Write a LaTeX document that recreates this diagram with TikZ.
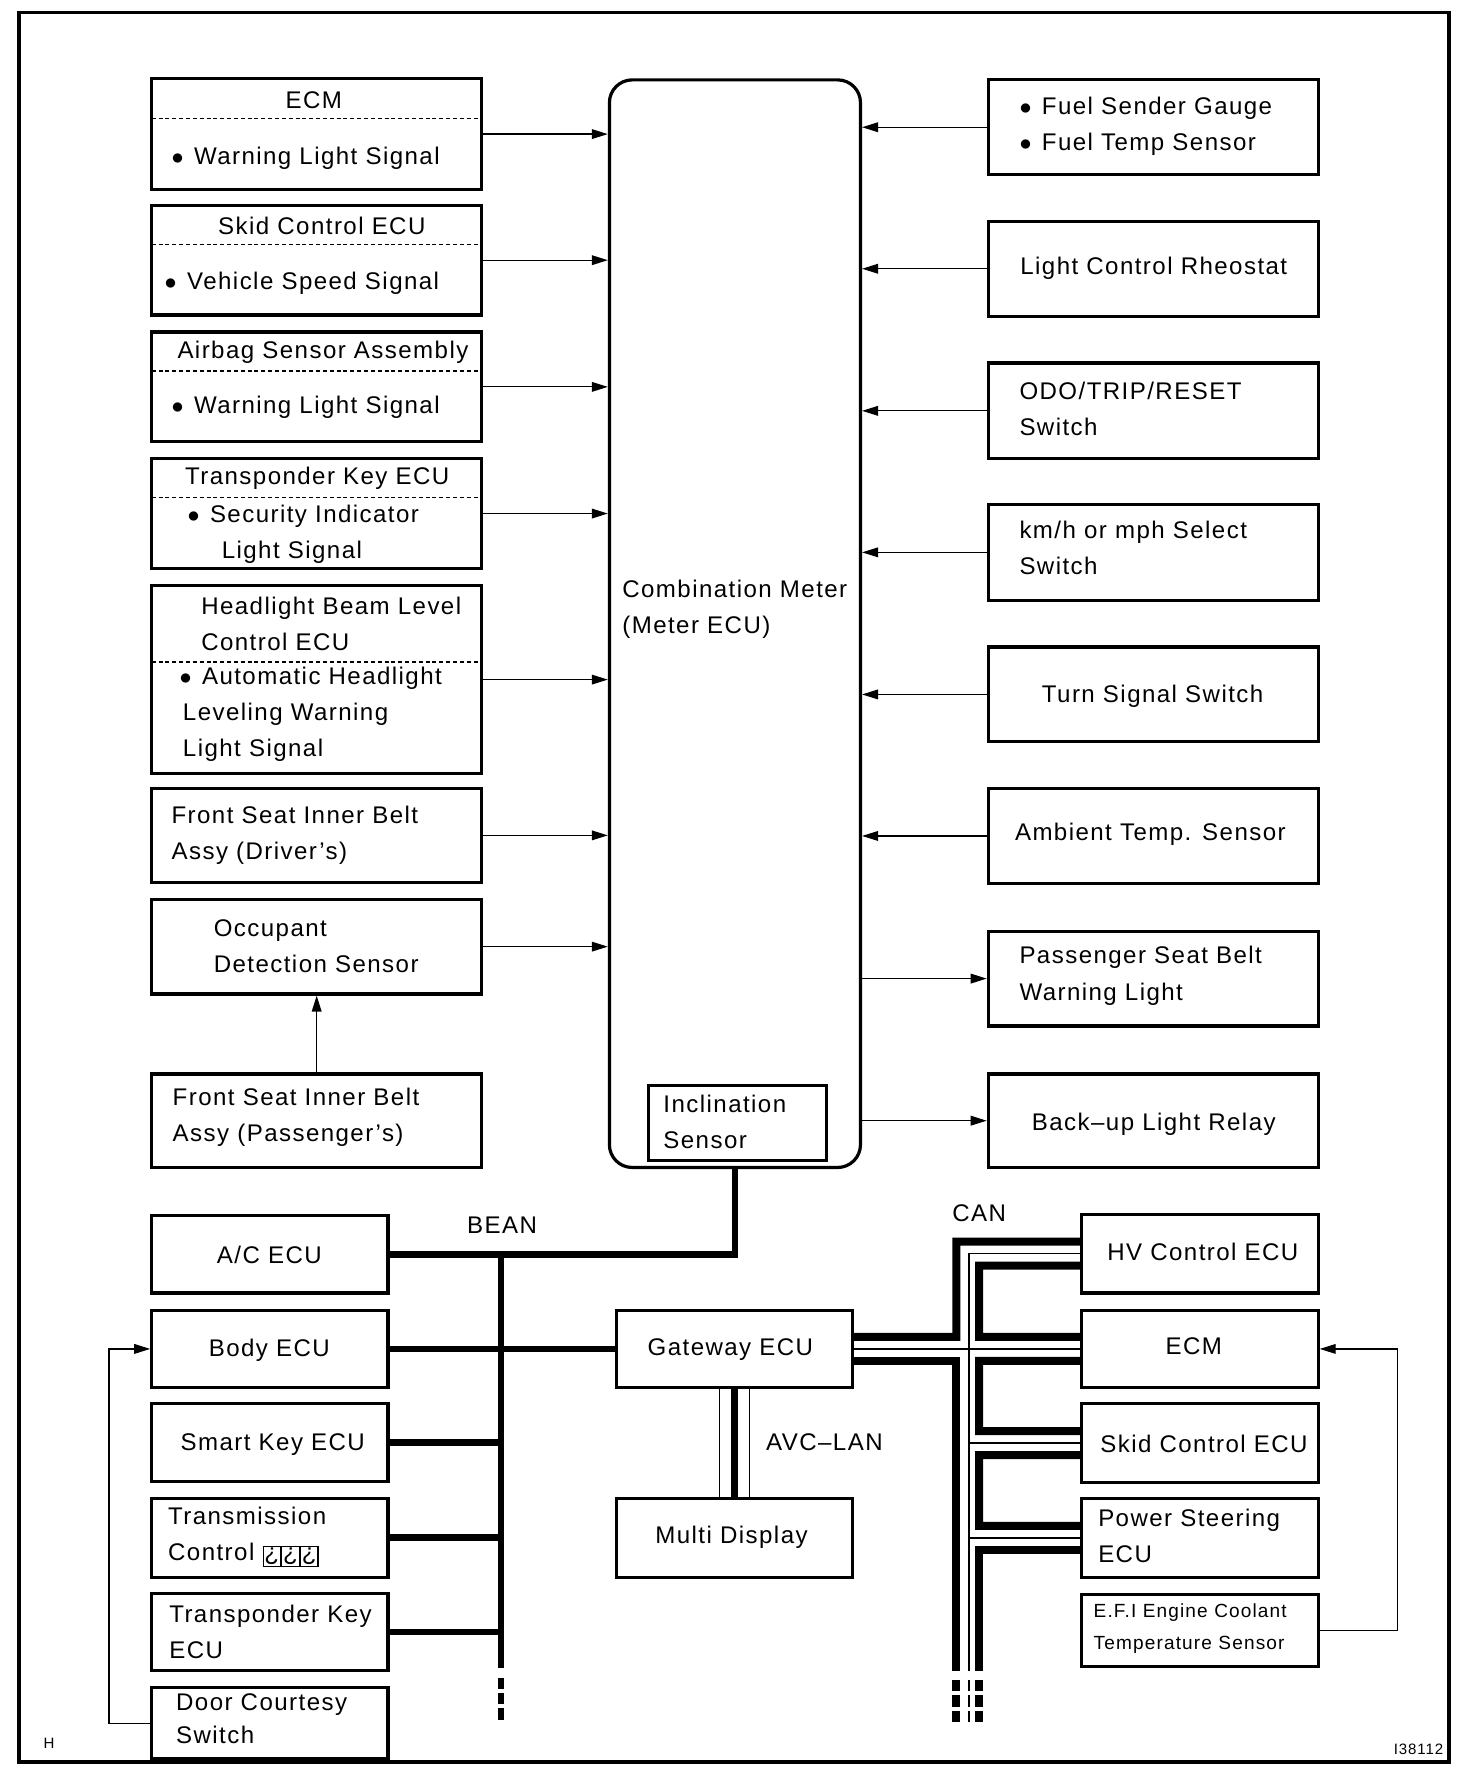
\documentclass[tikz,border=0pt]{standalone}
\usepackage{fontspec}
\setmainfont{Liberation Sans}[LetterSpace=6]
\usetikzlibrary{arrows.meta,positioning,fit,calc}
\newcommand{\qbox}{{\fboxsep=0.4pt\fboxrule=0.6pt\fbox{¿}}}
\newcommand{\itm}{$\bullet$\ \hspace{0.04cm}}

\begin{document}
\begin{tikzpicture}[
    x=0.02cm, y=-0.02cm,
    font=\fontsize{12}{18}\selectfont,
    box/.style={draw, line width=1.6pt, inner sep=0pt},
    txt/.style={inner sep=0pt, align=left, anchor=west},
    sep/.style={line width=0.6pt, dash pattern=on 0.07cm off 0.05cm},
    sig/.style={line width=0.6pt, -{Triangle[length=0.28cm, width=0.17cm]}},
    bean/.style={line width=3.4pt},
    can/.style={line width=4pt},
    canthin/.style={line width=0.7pt},
    tail/.style={dash pattern=on 0.2cm off 0.07cm}
]
\useasboundingbox (0,0) rectangle (1290,1565);
\draw[line width=1.9pt] (17,11) rectangle (1270,1544);

% Combination meter
\node[box, rounded corners=0.4cm, fit={(534,70)(754,1023)}] (meter) {};
\node[txt] (metertxt) at (545,534) {Combination Meter\\(Meter ECU)};
\node[box, fit={(568,951)(724,1017)}] (incl) {};
\node[txt] (incltxt) at (581,983) {Inclination\\Sensor};

% Left inputs
\node[box, fit={(133,69)(422,166)}] (ecmbox) {};
\draw[sep] (133,104) -- (422,104);
\node (ecmtitle) at (275,88) {ECM};
\node[txt] (ecmitem) at (150,139) {\itm Warning Light Signal};

\node[box, fit={(133,180)(422,276)}] (skidbox) {};
\draw[sep] (133,214) -- (422,214);
\node (skidtitle) at (282,198) {Skid Control ECU};
\node[txt] (skiditem) at (144,248) {\itm Vehicle Speed Signal};

\node[box, fit={(133,291)(422,387)}] (airbag) {};
\draw[sep] (133,325) -- (422,325);
\node (airbagtitle) at (283,309) {Airbag Sensor Assembly};
\node[txt] (airbagitem) at (150,357) {\itm Warning Light Signal};

\node[box, fit={(133,402)(422,498)}] (transkey) {};
\draw[sep] (133,436) -- (422,436);
\node (transkeytitle) at (278,419) {Transponder Key ECU};
\node[txt] (transkeyitem) at (164,468) {\itm Security Indicator\\\hspace*{0.6cm}Light Signal};

\node[box, fit={(133,513)(422,678)}] (headlight) {};
\draw[sep] (133,580) -- (422,580);
\node[txt] (headlighttitle) at (176,547) {Headlight Beam Level\\Control ECU};
\node[txt] (headlightitem) at (157,626) {\itm Automatic Headlight\\\hspace*{0.06cm}Leveling Warning\\\hspace*{0.06cm}Light Signal};

\node[box, fit={(133,691)(422,773)}] (beltdrv) {};
\node[txt] (beltdrvtxt) at (150,732) {Front Seat Inner Belt\\Assy (Driver’s)};

\node[box, fit={(133,788)(422,871)}] (occupant) {};
\node[txt] (occupanttxt) at (187,829) {Occupant\\Detection Sensor};

\node[box, fit={(133,941)(422,1023)}] (beltpass) {};
\node[txt] (beltpasstxt) at (151,979) {Front Seat Inner Belt\\Assy (Passenger’s)};

% Right side
\node[box, fit={(866,70)(1155,153)}] (fuel) {};
\node[txt] (fueltxt) at (893,111) {\itm Fuel Sender Gauge\\\itm Fuel Temp Sensor};
\node[box, fit={(866,194)(1155,277)}] (rheostat) {};
\node (rheostattxt) at (1011,235) {Light Control Rheostat};
\node[box, fit={(866,318)(1155,402)}] (odo) {};
\node[txt] (odotxt) at (893,358) {ODO/TRIP/RESET\\Switch};
\node[box, fit={(866,442)(1155,526)}] (kmh) {};
\node[txt] (kmhtxt) at (893,480) {km/h or mph Select\\Switch};
\node[box, fit={(866,567)(1155,650)}] (turnsig) {};
\node (turnsigtxt) at (1010,610) {Turn Signal Switch};
\node[box, fit={(866,691)(1155,774)}] (ambient) {};
\node (ambienttxt) at (1008,731) {Ambient Temp. Sensor};
\node[box, fit={(866,816)(1155,899)}] (pbelt) {};
\node[txt] (pbelttxt) at (893,855) {Passenger Seat Belt\\Warning Light};
\node[box, fit={(866,941)(1155,1023)}] (backup) {};
\node (backuptxt) at (1011,985) {Back–up Light Relay};

% Signal arrows
\draw[sig] (ecmbox.east) -- (ecmbox.east -| meter.west);
\draw[sig] (skidbox.east) -- (skidbox.east -| meter.west);
\draw[sig] (airbag.east) -- (airbag.east -| meter.west);
\draw[sig] (transkey.east) -- (transkey.east -| meter.west);
\draw[sig] (headlight.east) -- (headlight.east -| meter.west);
\draw[sig] (beltdrv.east) -- (beltdrv.east -| meter.west);
\draw[sig] (occupant.east) -- (occupant.east -| meter.west);
\draw[sig] (beltpass.north) -- (occupant.south);
\draw[sig] (fuel.west) -- (fuel.west -| meter.east);
\draw[sig] (rheostat.west) -- (rheostat.west -| meter.east);
\draw[sig] (odo.west) -- (odo.west -| meter.east);
\draw[sig] (kmh.west) -- (kmh.west -| meter.east);
\draw[sig] (turnsig.west) -- (turnsig.west -| meter.east);
\draw[sig] (ambient.west) -- (ambient.west -| meter.east);
\draw[sig] (pbelt.west -| meter.east) -- (pbelt.west);
\draw[sig] (backup.west -| meter.east) -- (backup.west);

% BEAN ECUs
\node[box, fit={(133,1065)(340,1133)}] (acecu) {};
\node (acecutxt) at (236,1100) {A/C ECU};
\node[box, fit={(133,1148)(340,1216)}] (bodyecu) {};
\node (bodyecutxt) at (236,1183) {Body ECU};
\node[box, fit={(133,1230)(340,1298)}] (smartkey) {};
\node (smartkeytxt) at (239,1266) {Smart Key ECU};
\node[box, fit={(133,1313)(340,1382)}] (transctl) {};
\node[txt] (transctltxt) at (147,1347) {Transmission\\Control \qbox\qbox\qbox};
\node[box, fit={(133,1396)(340,1464)}] (tkeyecu) {};
\node[txt] (tkeyecutxt) at (148,1430) {Transponder Key\\ECU};
\node[box, fit={(133,1479)(340,1541)}] (door) {};
\node[txt, font=\fontsize{12}{16}\selectfont] (doortxt) at (154,1506) {Door Courtesy\\Switch};

\node[box, fit={(540,1148)(747,1216)}] (gateway) {};
\node (gatewaytxt) at (640,1183) {Gateway ECU};
\node[box, fit={(540,1313)(747,1382)}] (multi) {};
\node (multitxt) at (641,1347) {Multi Display};

% CAN ECUs
\node[box, fit={(948,1064)(1155,1133)}] (hvecu) {};
\node (hvecutxt) at (1054,1097) {HV Control ECU};
\node[box, fit={(948,1148)(1155,1216)}] (ecmcan) {};
\node (ecmcantxt) at (1046,1180) {ECM};
\node[box, fit={(948,1230)(1155,1299)}] (skidcan) {};
\node (skidcantxt) at (1055,1265) {Skid Control ECU};
\node[box, fit={(948,1313)(1155,1382)}] (psecu) {};
\node[txt] (psecutxt) at (962,1346) {Power Steering\\ECU};
\node[box, fit={(948,1397)(1155,1460)}] (efi) {};
\node[txt, font=\fontsize{9.5}{16}\selectfont] (efitxt) at (958,1427) {E.F.I Engine Coolant\\Temperature Sensor};

% BEAN bus
\coordinate (beantop) at (439,1099);
\coordinate (beanend) at (439,1462);
\node (beanlbl) at (440,1074) {BEAN};
\draw[bean] (meter.south) |- (acecu.east);
\draw[bean] (beantop) -- (beanend);
\draw[bean, tail] ($(beanend)+(0,8)$) -- ($(beanend)+(0,46)$);
\draw[bean] (bodyecu.east) -- (gateway.west);
\draw[bean] (smartkey.east) -- (smartkey.east -| beantop);
\draw[bean] (transctl.east) -- (transctl.east -| beantop);
\draw[bean] (tkeyecu.east) -- (tkeyecu.east -| beantop);

% AVC-LAN
\draw[bean] (gateway.south) -- (multi.north);
\draw[canthin] ([xshift=-0.26cm]gateway.south) -- ([xshift=-0.26cm]multi.north);
\draw[canthin] ([xshift=0.26cm]gateway.south) -- ([xshift=0.26cm]multi.north);
\node[txt] (avclbl) at (671,1264) {AVC–LAN};

% CAN bus
\coordinate (canx) at (838,0);
\coordinate (canend) at (838,1464);
\coordinate (canthinend) at (849,1464);
\coordinate (caninx) at (858,0);
\coordinate (caninend) at (858,1464);
\node (canlbl) at (858,1063) {CAN};
\draw[can] ([yshift=0.21cm]gateway.east) -| ($(hvecu.west -| canx)+(0,-10.5)$) -- ([yshift=0.21cm]hvecu.west);
\draw[can] ([yshift=-0.21cm]gateway.east) -| (canend);
\draw[can, tail] ($(canend)+(0,8)$) -- ($(canend)+(0,45)$);
\draw[canthin] (gateway.east) -- (ecmcan.west);
\draw[canthin] (hvecu.west) -| (canthinend);
\draw[canthin, tail] ($(canthinend)+(0,8)$) -- ($(canthinend)+(0,45)$);
\draw[canthin] (skidcan.west) -- (skidcan.west -| canthinend);
\draw[canthin] (psecu.west) -- (psecu.west -| canthinend);
\draw[can] ([yshift=-0.21cm]hvecu.west) -| ($(ecmcan.west -| caninx)+(0,-10.5)$) -- ([yshift=0.21cm]ecmcan.west);
\draw[can] ([yshift=-0.21cm]ecmcan.west) -| ($(skidcan.west -| caninx)+(0,-10.5)$) -- ([yshift=0.21cm]skidcan.west);
\draw[can] ([yshift=-0.21cm]skidcan.west) -| ($(psecu.west -| caninx)+(0,-10.5)$) -- ([yshift=0.21cm]psecu.west);
\draw[can] ([yshift=-0.21cm]psecu.west) -| (caninend);
\draw[can, tail] ($(caninend)+(0,8)$) -- ($(caninend)+(0,45)$);

% Feedback wires
\draw[sig] (efi.east) -- ++(68,0) |- (ecmcan.east);
\draw[sig] (door.west) -- ++(-36,0) |- (bodyecu.west);

% Corner marks
\node[font=\fontsize{7.5}{9}\selectfont] (hlbl) at (43,1528) {H};
\node[font=\fontsize{7.5}{9}\selectfont] (figno) at (1243,1533) {I38112};

\end{tikzpicture}
\end{document}
